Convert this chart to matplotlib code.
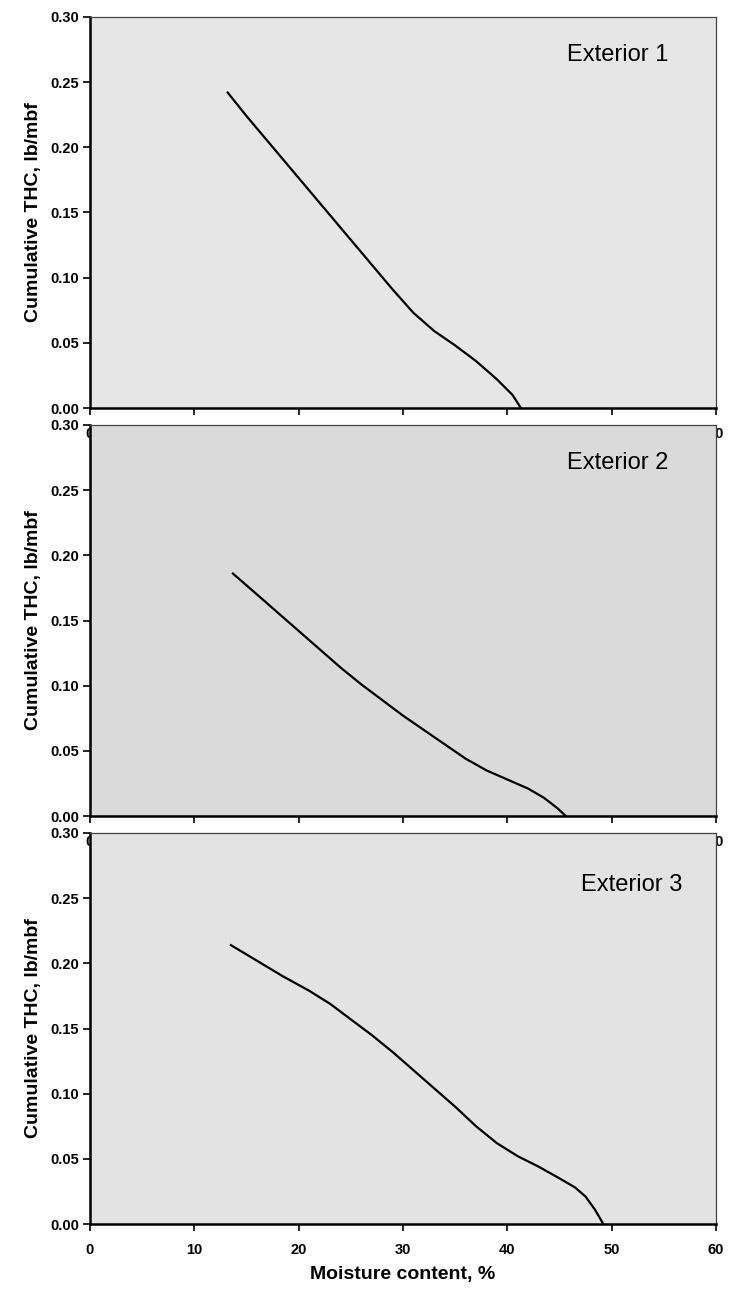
import numpy as np
import matplotlib
matplotlib.use('Agg')
import matplotlib.pyplot as plt

plt.rcParams['font.family'] = ['Liberation Sans', 'DejaVu Sans']

# moisture content (%) vs cumulative THC (lb/mbf)
mc_1 = [13.2, 15, 17, 19, 21, 23, 25, 27, 29, 31, 33, 35, 37, 39, 40.5, 41.3]
thc_1 = [0.242, 0.224, 0.205, 0.186, 0.167, 0.148, 0.129, 0.110, 0.091, 0.073,
         0.059, 0.048, 0.036, 0.022, 0.010, 0.0]

mc_2 = [13.7, 16, 18, 20, 22, 24, 26, 28, 30, 32, 34, 36, 38, 40, 42, 43.5, 44.8, 45.6]
thc_2 = [0.186, 0.170, 0.156, 0.142, 0.128, 0.114, 0.101, 0.089, 0.077, 0.066,
         0.055, 0.044, 0.035, 0.028, 0.021, 0.014, 0.006, 0.0]

mc_3 = [13.5, 16, 18.5, 21, 23, 25, 27, 29, 31, 33, 35, 37, 39, 41, 43, 45,
        46.5, 47.5, 48.4, 49.2]
thc_3 = [0.214, 0.202, 0.190, 0.179, 0.169, 0.157, 0.145, 0.132, 0.118, 0.104,
         0.090, 0.075, 0.062, 0.052, 0.044, 0.035, 0.028, 0.021, 0.011, 0.0]

labels = ['Exterior 1', 'Exterior 2', 'Exterior 3']
x_ticks = [0, 10, 20, 30, 40, 50, 60]
y_ticks = [0.00, 0.05, 0.10, 0.15, 0.20, 0.25, 0.30]

W, H = 738, 1291
fig = plt.figure(figsize=(W / 100, H / 100), dpi=100)
fig.patch.set_facecolor('white')

# panel tops/bottoms in pixels (from the top of the image)
panels = [(17, 408), (425, 816), (833, 1224)]
bg = ['#e6e6e6', '#dadada', '#e3e3e3']
series = [(mc_1, thc_1), (mc_2, thc_2), (mc_3, thc_3)]
lab_pos = [(45.7, 0.271), (45.7, 0.271), (47.1, 0.260)]

left, right = 90, 716
for i, ((top, bot), (xs, ys)) in enumerate(zip(panels, series)):
    ax = fig.add_axes([left / W, (H - bot) / H, (right - left) / W, (bot - top) / H])
    ax.set_zorder(i + 1)
    ax.set_facecolor(bg[i])
    ax.plot(xs, ys, color='black', lw=1.6, solid_joinstyle='round')
    ax.set_xlim(0, 60)
    ax.set_ylim(0, 0.30)
    ax.set_xticks(x_ticks)
    ax.set_yticks(y_ticks)
    ax.set_yticklabels(['%.2f' % v for v in y_ticks])
    ax.tick_params(axis='both', direction='out', length=5, width=1.2,
                   labelsize=10.5, colors='black')
    ax.tick_params(axis='x', pad=9)
    ax.tick_params(axis='y', pad=3)
    for t in ax.get_xticklabels() + ax.get_yticklabels():
        t.set_fontweight('bold')
    ax.spines['left'].set_linewidth(1.8)
    ax.spines['bottom'].set_linewidth(1.8)
    ax.spines['top'].set_linewidth(0.9)
    ax.spines['right'].set_linewidth(0.9)
    ax.spines['top'].set_color('#444444')
    ax.spines['right'].set_color('#444444')
    ax.set_ylabel('Cumulative THC, lb/mbf', fontsize=14, fontweight='bold', labelpad=6)
    ax.text(lab_pos[i][0], lab_pos[i][1], labels[i], fontsize=17, ha='left', va='center')
    if i == 2:
        ax.set_xlabel('Moisture content, %', fontsize=14, fontweight='bold', labelpad=6)

fig.savefig('out.png', dpi=100)
